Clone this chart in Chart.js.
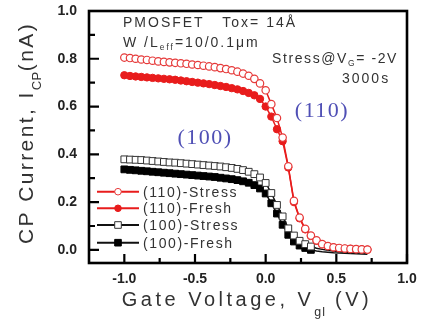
<!DOCTYPE html>
<html><head><meta charset="utf-8">
<script src="https://cdn.jsdelivr.net/npm/chart.js@4.4.0/dist/chart.umd.min.js"></script>
<style>html,body{margin:0;padding:0;background:#fff;}canvas{display:block;}</style>
</head><body>
<canvas id="c" width="421" height="322"></canvas>
<script>
const gateVoltage = [-1.00,-0.96,-0.92,-0.88,-0.84,-0.80,-0.76,-0.72,-0.68,-0.64,-0.60,-0.56,-0.52,-0.48,-0.44,-0.40,-0.36,-0.32,-0.28,-0.24,-0.20,-0.16,-0.12,-0.08,-0.04,0.00,0.04,0.08,0.12,0.16,0.20,0.24,0.28,0.32,0.36,0.40,0.44,0.48,0.52,0.56,0.60,0.64,0.68,0.72];
const stress110 = [0.805,0.803,0.800,0.797,0.795,0.792,0.789,0.787,0.785,0.783,0.781,0.779,0.776,0.774,0.771,0.768,0.765,0.761,0.757,0.752,0.746,0.738,0.729,0.716,0.697,0.668,0.610,0.552,0.470,0.350,0.205,0.135,0.088,0.060,0.040,0.024,0.016,0.011,0.008,0.006,0.004,0.003,0.002,0.001];
const fresh110 = [0.731,0.728,0.726,0.724,0.722,0.720,0.718,0.716,0.714,0.712,0.709,0.706,0.703,0.700,0.697,0.694,0.690,0.686,0.682,0.677,0.672,0.665,0.657,0.647,0.632,0.600,0.558,0.505,0.455,0.345,0.200,0.132,0.086,0.058,0.038,0.023,0.015,0.010,0.007,0.005,0.004,0.003,0.002,0.001];
const stress100 = [0.379,0.378,0.377,0.376,0.374,0.372,0.370,0.368,0.366,0.365,0.363,0.361,0.359,0.357,0.355,0.353,0.351,0.349,0.346,0.343,0.339,0.334,0.327,0.317,0.303,0.280,0.238,0.188,0.140,0.090,0.060,0.038,0.024,0.014,0.007,0.002,-0.002,-0.005,-0.007,-0.009,-0.010,-0.011,-0.012,-0.013];
const fresh100 = [0.337,0.335,0.333,0.331,0.329,0.327,0.325,0.323,0.321,0.319,0.317,0.315,0.313,0.311,0.309,0.307,0.305,0.302,0.299,0.296,0.292,0.287,0.281,0.271,0.257,0.236,0.195,0.152,0.105,0.063,0.035,0.018,0.008,0.000,-0.005,-0.008,-0.010,-0.012,-0.013,-0.014,-0.015,-0.016,-0.017,-0.018];
const seriesNames = ['(110)-Stress','(110)-Fresh','(100)-Stress','(100)-Fresh'];
const xTicks = [-1.0,-0.5,0.0,0.5,1.0];
const xMinorTicks = [-0.75,-0.25,0.25,0.75];
const yTicks = [0.0,0.2,0.4,0.6,0.8,1.0];
const yMinorTicks = [0.1,0.3,0.5,0.7,0.9];

const SANS = '"Liberation Sans", Arial, sans-serif';
const SERIF = '"Liberation Serif", "Times New Roman", serif';
const RED = '#e81c1c';

function pts(arr){ return gateVoltage.map((v,i)=>({x:v,y:arr[i]})); }
const sqRadius = (ctx) => (ctx.raw && ctx.raw.x > 0.34) ? 0 : 4.8;

const styles = [
  {pointStyle:'circle', radius:3.7, bw:1.2, bg:'#ffffff', border:'#e63a3a', line:RED},
  {pointStyle:'circle', radius:3.7, bw:1, bg:RED, border:RED, line:RED},
  {pointStyle:'rect', radius:4.8, bw:1, bg:'#ffffff', border:'#333333', line:'#111111'},
  {pointStyle:'rect', radius:4.8, bw:1, bg:'#000000', border:'#000000', line:'#111111'}
];
const seriesData = [stress110, fresh110, stress100, fresh100];

const datasets = seriesData.map((arr,i)=>({
  label: seriesNames[i],
  data: pts(arr),
  borderColor: styles[i].line,
  borderWidth: 1.5,
  pointStyle: styles[i].pointStyle,
  pointRadius: i>=2 ? sqRadius : styles[i].radius,
  pointBackgroundColor: styles[i].bg,
  pointBorderColor: styles[i].border,
  pointBorderWidth: styles[i].bw,
  tension: 0,
  fill: false
}));

function drawRich(ctx, parts, x, y, o){
  const segs = parts.map(([t,s])=>{
    const size = s ? o.size*o.subScale : o.size;
    ctx.font = `${o.weight||'normal'} ${size}px ${o.family}`;
    ctx.letterSpacing = (s ? (o.subSpacing ?? o.spacing) : o.spacing) + 'px';
    return {t, s, size, w: ctx.measureText(t).width};
  });
  const total = segs.reduce((a,g)=>a+g.w,0);
  let cx = o.align==='center' ? x-total/2 : (o.align==='right' ? x-total : x);
  ctx.fillStyle = o.color; ctx.textAlign='left'; ctx.textBaseline='alphabetic';
  for (const g of segs){
    ctx.font = `${o.weight||'normal'} ${g.size}px ${o.family}`;
    ctx.letterSpacing = (g.s ? (o.subSpacing ?? o.spacing) : o.spacing) + 'px';
    ctx.fillText(g.t, cx, g.s ? y+o.drop : y);
    cx += g.w;
  }
  ctx.letterSpacing = '0px';
}

function marker(ctx, st, x, y, r){
  ctx.save();
  ctx.fillStyle = st.bg; ctx.strokeStyle = st.border; ctx.lineWidth = 1;
  ctx.beginPath();
  if (st.pointStyle==='circle') ctx.arc(x,y,r,0,Math.PI*2);
  else ctx.rect(x-r, y-r, 2*r, 2*r);
  ctx.fill(); ctx.stroke();
  ctx.restore();
}

const decor = {
  id:'decor',
  afterDatasetsDraw(chart){
    const ctx = chart.ctx, a = chart.chartArea;
    const xs = chart.scales.x, ys = chart.scales.y;
    ctx.save();
    ctx.strokeStyle='#000'; ctx.lineWidth=2.6;
    ctx.strokeRect(a.left, a.top, a.right-a.left, a.bottom-a.top);
    ctx.lineWidth=2.2;
    ctx.beginPath();
    xTicks.forEach(v=>{const p=xs.getPixelForValue(v); ctx.moveTo(p,a.bottom); ctx.lineTo(p,a.bottom-9);});
    xMinorTicks.forEach(v=>{const p=xs.getPixelForValue(v); ctx.moveTo(p,a.bottom); ctx.lineTo(p,a.bottom-5);});
    yTicks.forEach(v=>{const p=ys.getPixelForValue(v); ctx.moveTo(a.left,p); ctx.lineTo(a.left+10,p);});
    yMinorTicks.forEach(v=>{const p=ys.getPixelForValue(v); ctx.moveTo(a.left,p); ctx.lineTo(a.left+6,p);});
    ctx.stroke();

    const ann = {size:14, family:SANS, color:'#333', spacing:2, subScale:0.6, drop:3, align:'left'};
    drawRich(ctx, [['PMOSFET   Tox= 14Å',0]], 123, 27, ann);
    drawRich(ctx, [['W /L',0],['eff',1],['=10/0.1μm',0]], 123, 47, ann);
    drawRich(ctx, [['Stress@V',0],['G',1],['= -2V',0]], 398, 63, Object.assign({}, ann, {spacing:1.6, align:'right'}));
    drawRich(ctx, [['3000s',0]], 342, 83, ann);
    const blue = {size:22, family:SERIF, color:'#4f4fb5', spacing:1.5, subScale:1, drop:0, align:'center'};
    drawRich(ctx, [['(110)',0]], 322, 117, blue);
    drawRich(ctx, [['(100)',0]], 205, 144, blue);

    const rows = [191.7, 208.3, 225, 242.7];
    const leg = {size:14, family:SANS, color:'#333', spacing:1.6, subScale:1, drop:0, align:'left'};
    rows.forEach((ry,i)=>{
      const st = styles[i];
      ctx.strokeStyle = st.line; ctx.lineWidth = 2;
      ctx.beginPath(); ctx.moveTo(97, ry); ctx.lineTo(139, ry); ctx.stroke();
      marker(ctx, st, 118, ry, st.pointStyle==='circle' ? 3.3 : 3.3);
      drawRich(ctx, [[seriesNames[i],0]], 143, ry+5, leg);
    });
    ctx.restore();
  },
  afterDraw(chart){
    const ctx = chart.ctx;
    ctx.save();
    drawRich(ctx, [['Gate Voltage, V',0],['gl',1],[' (V)',0]], 247, 306,
      {size:20, family:SANS, color:'#333', spacing:3.5, subScale:0.62, subSpacing:1, drop:10, align:'center'});
    ctx.translate(33, 133);
    ctx.rotate(-Math.PI/2);
    drawRich(ctx, [['CP Current, I',0],['CP',1],['(nA)',0]], 0, 0,
      {size:21, family:SANS, color:'#333', spacing:2.4, subScale:0.62, subSpacing:0.5, drop:8, align:'center'});
    ctx.restore();
  }
};

function noPadY(s){ s.width = 89; s.paddingTop = 0; s.paddingBottom = 0; }
function noPadX(s){ s.height = 59; s.paddingLeft = 0; s.paddingRight = 0; }

new Chart(document.getElementById('c'), {
  type:'line',
  data:{datasets},
  options:{
    responsive:false, animation:false, devicePixelRatio:1,
    layout:{padding:{top:11, right:14, left:0, bottom:0}},
    plugins:{legend:{display:false}, tooltip:{enabled:false}},
    scales:{
      x:{type:'linear', min:-1.25, max:1.0,
        afterBuildTicks:s=>{s.ticks = xTicks.map(v=>({value:v}));},
        afterFit:noPadX,
        grid:{display:false, drawTicks:false}, border:{display:false},
        ticks:{padding:8, color:'#222', font:{family:SANS, size:14, weight:'bold'}, callback:v=>Number(v).toFixed(1), maxRotation:0, autoSkip:false}
      },
      y:{type:'linear', min:-0.055, max:1.0,
        afterBuildTicks:s=>{s.ticks = yTicks.map(v=>({value:v}));},
        afterFit:noPadY,
        grid:{display:false, drawTicks:false}, border:{display:false},
        ticks:{padding:12, color:'#222', font:{family:SANS, size:14, weight:'bold'}, callback:v=>Number(v).toFixed(1), autoSkip:false}
      }
    }
  },
  plugins:[decor]
});
</script>
</body></html>
